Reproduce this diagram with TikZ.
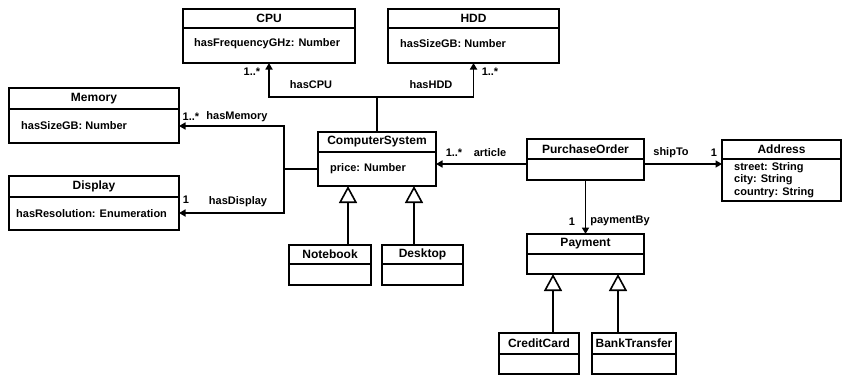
\documentclass[tikz,border=0pt]{standalone}
\usepackage{fontspec}
\setmainfont{Liberation Sans}
\usetikzlibrary{arrows.meta,calc}
\tikzset{
 classbox/.style={draw,line width=1.6pt,inner sep=0pt,outer sep=0pt,anchor=north west},
 titletxt/.style={font=\fontsize{12}{14}\selectfont\bfseries,inner sep=0pt},
 attrtxt/.style={font=\fontsize{11}{12.5}\selectfont\bfseries,inner sep=0pt,anchor=west,align=left},
 lbl/.style={font=\fontsize{11}{13}\selectfont\bfseries,inner sep=0pt},
 assoc/.style={line width=1.6pt,-{Triangle[length=6.5pt,width=7pt]}},
 plainline/.style={line width=1.6pt},
 gen/.style={line width=1.6pt,-{Triangle[open,length=17pt,width=18pt,fill=white]}},
}
\newcommand{\umlclass}[7]{%
 \node[classbox,minimum width={#4-#2},minimum height={#6-#3}] (#1) at (#2,#3) {};
 \draw[line width=1.6pt] (#2,#5) -- (#4,#5);
 \node[titletxt] (#1-t) at ({(#2+#4)/2},{(#3+#5)/2}) {#7};
}
\begin{document}
\begin{tikzpicture}[x=1pt,y=-1pt]
\useasboundingbox (0,0) rectangle (842,375);
% classes
\umlclass{cpu}{183}{9}{355}{28}{63}{CPU}
\node[attrtxt] (cpu-a) at (194,44) {hasFrequencyGHz: Number};
\umlclass{hdd}{388}{9}{559}{28}{63}{HDD}
\node[attrtxt] (hdd-a) at (400,44) {hasSizeGB: Number};
\umlclass{mem}{9}{88}{179}{109}{143}{Memory}
\node[attrtxt] (mem-a) at (21,126) {hasSizeGB: Number};
\umlclass{disp}{9}{176}{179}{197}{230}{Display}
\node[attrtxt] (disp-a) at (16,214) {hasResolution: Enumeration};
\umlclass{cs}{318}{132}{436}{152}{186}{ComputerSystem}
\node[attrtxt] (cs-a) at (330,169) {price: Number};
\umlclass{nb}{289}{245}{371}{264}{285}{Notebook}
\umlclass{dt}{382}{245}{463}{264}{285}{Desktop}
\umlclass{po}{527}{139}{644}{159}{180}{PurchaseOrder}
\umlclass{addr}{722}{140}{841}{159}{201}{Address}
\node[attrtxt] (addr-a) at (734,180) {street: String\\city: String\\country: String};
\umlclass{pay}{527}{234}{644}{254}{274}{Payment}
\umlclass{cc}{499}{333}{579}{354}{374}{CreditCard}
\umlclass{bt}{592}{333}{676}{354}{374}{BankTransfer}
% junction coordinates
\coordinate (jtop) at (377,97);
\coordinate (jl) at (284,169);
\coordinate (jm) at (284,126);
\coordinate (jd) at (284,213);
\coordinate (art) at (480,164);
% CPU / HDD
\draw[plainline] (cs.north) -- (jtop);
\draw[assoc] (jtop) -| (cpu.south);
\draw[assoc] (jtop) -| (hdd.south);
\node[lbl] (l-cpu) at (311,85) {hasCPU};
\node[lbl] (l-hdd) at (431,85) {hasHDD};
\node[lbl] (m-cpu) at (252,72) {1..*};
\node[lbl] (m-hdd) at (490,72) {1..*};
% Memory / Display
\draw[plainline] (cs.west |- jl) -- (jl);
\draw[assoc] (jl) -- (jm) -- (mem.east |- jm);
\draw[assoc] (jl) -- (jd) -- (disp.east |- jd);
\node[lbl] (l-mem) at (237,117) {hasMemory};
\node[lbl] (m-mem) at (191,117) {1..*};
\node[lbl] (l-disp) at (238,202) {hasDisplay};
\node[lbl] (m-disp) at (186,200) {1};
% article / shipTo / paymentBy
\draw[assoc] (po.west |- art) -- (cs.east |- art);
\node[lbl] (m-art) at (454,153) {1..*};
\node[lbl] (l-art) at (490,153) {article};
\draw[assoc] (po.east |- art) -- (addr.west |- art);
\node[lbl] (l-ship) at (671,153) {shipTo};
\node[lbl] (m-ship) at (714,153) {1};
\draw[assoc] (po.south) -- (pay.north);
\node[lbl] (m-pay) at (572,222) {1};
\node[lbl] (l-pay) at (620,221) {paymentBy};
% generalizations
\draw[gen] (nb.north -| 348,0) -- (cs.south -| 348,0);
\draw[gen] (dt.north -| 414,0) -- (cs.south -| 414,0);
\draw[gen] (cc.north -| 553,0) -- (pay.south -| 553,0);
\draw[gen] (bt.north -| 618,0) -- (pay.south -| 618,0);
\end{tikzpicture}
\end{document}
